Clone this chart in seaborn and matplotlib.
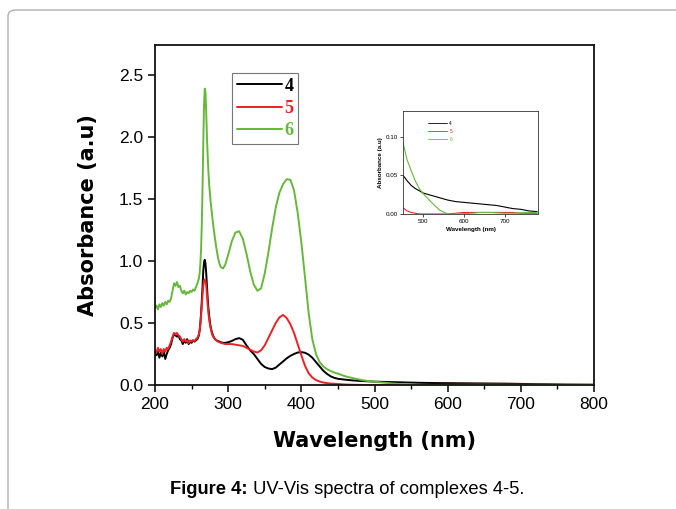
import numpy as np
import pandas as pd
import matplotlib
matplotlib.use("Agg")
import matplotlib.pyplot as plt
from matplotlib.patches import FancyBboxPatch
from matplotlib.lines import Line2D
import seaborn as sns

# ---------------- data ----------------
wavelength = [200, 202, 204, 206, 208, 210, 212, 214, 216, 218, 220, 222, 224, 226, 228, 230,
              232, 234, 236, 238, 240, 242, 244, 246, 248, 250, 252, 254, 256, 258, 260,
              261, 262, 263, 264, 265, 266, 267, 268, 269, 270, 271, 272, 273, 274, 275, 276,
              278, 280, 282, 284, 286, 288, 290, 293, 296, 300, 305, 310, 315, 320, 325, 330,
              335, 340, 345, 350, 355, 360, 365, 370, 375, 380, 385, 390, 395, 400, 405, 410,
              415, 420, 425, 430, 435, 440, 445, 450, 460, 470, 480, 490, 500, 520, 540, 560,
              580, 600, 620, 640, 660, 680, 700, 720, 740, 760, 780, 800]

abs_4 = [0.26, 0.24, 0.27, 0.22, 0.26, 0.23, 0.27, 0.21, 0.25, 0.28, 0.30, 0.33, 0.38, 0.41, 0.40, 0.39,
         0.40, 0.37, 0.36, 0.33, 0.36, 0.34, 0.37, 0.33, 0.35, 0.34, 0.36, 0.35, 0.36, 0.37, 0.40,
         0.44, 0.50, 0.58, 0.68, 0.80, 0.92, 0.99, 1.01, 0.98, 0.90, 0.80, 0.70, 0.62, 0.56, 0.51, 0.47,
         0.42, 0.39, 0.37, 0.36, 0.355, 0.35, 0.345, 0.34, 0.34, 0.345, 0.355, 0.37, 0.378, 0.365, 0.32, 0.28,
         0.25, 0.21, 0.17, 0.145, 0.133, 0.128, 0.14, 0.165, 0.19, 0.215, 0.235, 0.25, 0.262, 0.265, 0.26, 0.245,
         0.22, 0.185, 0.15, 0.115, 0.09, 0.07, 0.058, 0.05, 0.043, 0.037, 0.033, 0.030, 0.027, 0.024, 0.021, 0.018,
         0.016, 0.015, 0.014, 0.013, 0.012, 0.011, 0.009, 0.007, 0.006, 0.004, 0.003, 0.002]

abs_5 = [0.28, 0.26, 0.30, 0.27, 0.29, 0.25, 0.29, 0.27, 0.30, 0.29, 0.32, 0.35, 0.39, 0.42, 0.41, 0.42,
         0.40, 0.39, 0.37, 0.35, 0.37, 0.35, 0.36, 0.34, 0.36, 0.35, 0.36, 0.355, 0.37, 0.38, 0.41,
         0.44, 0.49, 0.56, 0.64, 0.73, 0.80, 0.84, 0.85, 0.84, 0.80, 0.73, 0.65, 0.58, 0.53, 0.49, 0.46,
         0.41, 0.385, 0.37, 0.36, 0.35, 0.345, 0.34, 0.335, 0.33, 0.33, 0.33, 0.325, 0.32, 0.315, 0.30, 0.285,
         0.27, 0.262, 0.28, 0.32, 0.38, 0.44, 0.50, 0.545, 0.565, 0.54, 0.49, 0.42, 0.33, 0.24, 0.155, 0.095,
         0.06, 0.04, 0.028, 0.02, 0.015, 0.012, 0.010, 0.008, 0.004, 0.002, 0.001, 0.0, 0.0, 0.0, 0.0, 0.0,
         0.001, 0.002, 0.002, 0.002, 0.002, 0.002, 0.002, 0.002, 0.001, 0.001, 0.001, 0.001]

abs_6 = [0.62, 0.64, 0.61, 0.65, 0.63, 0.66, 0.64, 0.67, 0.65, 0.68, 0.67, 0.70, 0.76, 0.82, 0.80, 0.83,
         0.79, 0.80, 0.76, 0.74, 0.76, 0.73, 0.75, 0.74, 0.76, 0.75, 0.77, 0.76, 0.79, 0.82, 0.86,
         0.90, 0.98, 1.10, 1.30, 1.60, 1.95, 2.25, 2.39, 2.36, 2.20, 2.00, 1.85, 1.72, 1.62, 1.55, 1.48,
         1.37, 1.27, 1.18, 1.10, 1.03, 0.98, 0.95, 0.94, 0.97, 1.05, 1.16, 1.23, 1.24, 1.18, 1.06, 0.92,
         0.81, 0.76, 0.78, 0.90, 1.07, 1.26, 1.43, 1.55, 1.62, 1.66, 1.655, 1.57, 1.39, 1.15, 0.87, 0.58,
         0.37, 0.25, 0.185, 0.15, 0.128, 0.113, 0.10, 0.092, 0.07, 0.056, 0.043, 0.033, 0.026, 0.015, 0.005, 0.0,
         0.0, 0.0005, 0.001, 0.002, 0.002, 0.0015, 0.001, 0.001, 0.0015, 0.002, 0.002, 0.002]

series_labels = ["4", "5", "6"]
colors = {"4": "#000000", "5": "#ee2024", "6": "#66b83a"}

df = pd.concat([
    pd.DataFrame({"wl": wavelength, "A": abs_4, "s": "4"}),
    pd.DataFrame({"wl": wavelength, "A": abs_5, "s": "5"}),
    pd.DataFrame({"wl": wavelength, "A": abs_6, "s": "6"}),
])

# ---------------- figure ----------------
sns.set_style("ticks")
plt.rcParams["font.family"] = ["Liberation Sans", "DejaVu Sans"]
plt.rcParams["text.color"] = "black"
plt.rcParams["axes.labelcolor"] = "black"

W, H = 676, 509
fig = plt.figure(figsize=(W / 100, H / 100), dpi=100)

# outer rounded frame
frame = FancyBboxPatch((8 / W, -0.2), 1.2, 1.0 - 10 / H + 0.2,
                       boxstyle="round,pad=0,rounding_size=0.012",
                       transform=fig.transFigure, fill=False,
                       edgecolor="#b0b0b0", linewidth=1.0)
fig.add_artist(frame)

ax = fig.add_axes([155 / W, 1 - 385 / H, (594 - 155) / W, (385 - 45) / H])
sns.lineplot(data=df, x="wl", y="A", hue="s", palette=colors, ax=ax,
             linewidth=1.4, legend=False, sort=False, estimator=None)
ax.set_xlim(200, 800)
ax.set_ylim(0, 2.742)
ax.set_xticks([200, 300, 400, 500, 600, 700, 800])
ax.set_xticks(np.arange(250, 800, 100), minor=True)
ax.set_yticks([0.0, 0.5, 1.0, 1.5, 2.0, 2.5])
ax.set_yticklabels(["0.0", "0.5", "1.0", "1.5", "2.0", "2.5"])
ax.tick_params(axis="both", which="major", direction="out", length=5, width=1.1,
               labelsize=12.5, colors="black")
ax.tick_params(axis="x", which="minor", direction="out", length=3, width=1.0, colors="black")
for sp in ax.spines.values():
    sp.set_visible(True)
    sp.set_linewidth(1.3)
    sp.set_color("#111111")
ax.set_xlabel("Wavelength (nm)", fontsize=15, fontweight="bold",
              family="DejaVu Sans", labelpad=14, color="black")
ax.set_ylabel("Absorbance (a.u)", fontsize=15, fontweight="bold",
              family="DejaVu Sans", labelpad=15, color="black")

handles = [Line2D([], [], color=colors[s], lw=1.4) for s in series_labels]
leg = ax.legend(handles, series_labels, loc="upper left",
                bbox_to_anchor=((232 - 155) / 439, (385 - 73) / 340),
                prop={"family": "Liberation Serif", "weight": "bold", "size": 13},
                labelcolor=[colors[s] for s in series_labels],
                frameon=True, fancybox=False, edgecolor="#555555",
                handlelength=2.5, handletextpad=0.15, borderpad=0.25,
                labelspacing=0.3, borderaxespad=0)
leg.get_frame().set_linewidth(0.8)

# ---------------- inset ----------------
ins = fig.add_axes([403 / W, 1 - 214 / H, (538 - 403) / W, (214 - 111) / H])
sub = df[(df["wl"] >= 450) & (df["wl"] <= 780)]
sns.lineplot(data=sub, x="wl", y="A", hue="s", palette=colors, ax=ins,
             linewidth=0.8, legend=False, sort=False, estimator=None)
ins.set_xlim(450, 782)
ins.set_ylim(0, 0.133)
ins.set_xticks([500, 600, 700])
ins.set_yticks([0.00, 0.05, 0.10])
ins.set_yticklabels(["0.00", "0.05", "0.10"])
ins.tick_params(axis="both", which="major", direction="out", length=2, width=0.5,
                labelsize=4.5, pad=1.5, colors="black")
for sp in ins.spines.values():
    sp.set_visible(True)
    sp.set_linewidth(0.6)
    sp.set_color("#333333")
ins.set_xlabel("Wavelength (nm)", fontsize=4.5, fontweight="bold", labelpad=2)
ins.set_ylabel("Absorbance (a.u)", fontsize=4.5, fontweight="bold", labelpad=2)
ihandles = [Line2D([], [], color=colors[s], lw=0.6) for s in series_labels]
ileg = ins.legend(ihandles, series_labels, loc="upper left",
                  bbox_to_anchor=(0.17, 0.92), frameon=False,
                  prop={"size": 3.5}, labelcolor=[colors[s] for s in series_labels],
                  handlelength=4.0, handletextpad=0.4, labelspacing=0.55, borderaxespad=0)

# ---------------- caption ----------------
t1 = fig.text(170 / W, 1 - 494 / H, "Figure 4:", fontsize=13.2, fontweight="bold",
              va="baseline", ha="left", color="black")
ax.annotate(" UV-Vis spectra of complexes 4-5.", xy=(1, 0), xycoords=t1,
            va="bottom", ha="left", fontsize=13.2, annotation_clip=False, color="black")

fig.savefig("out.png", dpi=100)
